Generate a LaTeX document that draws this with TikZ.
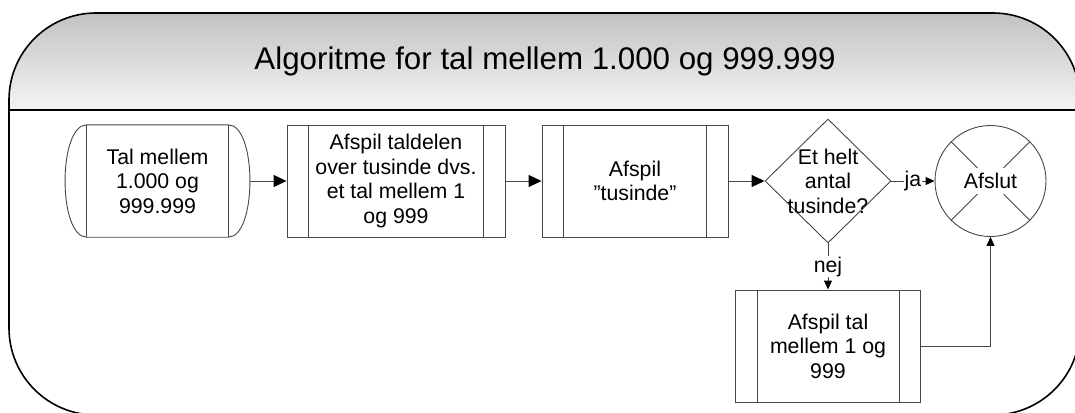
\documentclass[tikz,border=0pt]{standalone}
\usepackage{fontspec}
\setmainfont{Liberation Sans}
\usetikzlibrary{shapes.geometric,arrows.meta,calc}
\definecolor{ln}{RGB}{70,70,70}
\newcommand\ppbars[1]{\draw[ln,line width=0.9pt] ($(#1.north west)+(22,0)$) -- ($(#1.south west)+(22,0)$) ($(#1.north east)+(-22,0)$) -- ($(#1.south east)+(-22,0)$);}
\begin{document}
\begin{tikzpicture}[x=1pt,y=-1pt,
  txt/.style={inner sep=0pt,align=center,font=\fontsize{21.3}{24.5}\selectfont},
  plain/.style={txt,minimum height=112pt},
  box/.style={plain,draw=ln,line width=0.9pt},
  conn/.style={draw=ln,line width=0.9pt,-{Triangle[length=13pt,width=12pt,color=black]}},
  connsm/.style={draw=ln,line width=0.9pt,-{Triangle[length=9pt,width=8pt,color=black]}},
  lbl/.style={fill=white,inner sep=1pt,font=\fontsize{21.3}{24.5}\selectfont}
]
\useasboundingbox (0,0) rectangle (1075,412);
\clip (0,0) rectangle (1075,412);
% frame
\begin{scope}
\clip[rounded corners=87pt] (9,200) -- (9,13) -- (1080,13) -- (1080,415) -- (9,415) -- cycle;
\shade[top color=black!24,bottom color=black!4] (0,13) rectangle (1080,110);
\end{scope}
\draw[line width=1.6pt,rounded corners=87pt] (9,200) -- (9,13) -- (1080,13) -- (1080,415) -- (9,415) -- cycle;
\draw[line width=1.6pt] (9,110) -- (1080,110);
\node[inner sep=0pt,font=\fontsize{31.3}{36}\selectfont] (title) at (545,61) {Algoritme for tal mellem 1.000 og 999.999};
% start node
\node[plain,minimum width=185pt] (n1) at (157.5,181) {Tal mellem\\1.000 og\\999.999};
\draw[ln,line width=0.9pt] ($(n1.north west)+(22,0)$) -- ($(n1.north east)+(-22,0)$)
  .. controls +(29,0) and +(29,0) .. ($(n1.south east)+(-22,0)$) -- ($(n1.south west)+(22,0)$)
  .. controls +(-29,0) and +(-29,0) .. ($(n1.north west)+(22,0)$) -- cycle;
\ppbars{n1}
% process nodes
\node[box,minimum width=218pt] (n2) at (396,181) {Afspil taldelen\\over tusinde dvs.\\et tal mellem 1\\og 999};
\ppbars{n2}
\node[box,minimum width=186pt] (n3) at (635,181) {Afspil\\\char"201D tusinde\char"201D};
\ppbars{n3}
\node[draw=ln,line width=0.9pt,diamond,aspect=1,minimum width=126pt,minimum height=124pt,inner sep=0pt] (d) at (828,181) {};
\node[txt] (dt) at (828,181) {Et helt\\antal\\tusinde?};
\node[txt,draw=ln,line width=0.9pt,circle,minimum size=111pt] (c) at (990.5,181) {Afslut};
\draw[ln,line width=0.9pt] (c.north west) -- ($(c.center)!0.33!(c.north west)$)
  (c.north east) -- ($(c.center)!0.33!(c.north east)$)
  (c.south west) -- ($(c.center)!0.33!(c.south west)$)
  (c.south east) -- ($(c.center)!0.33!(c.south east)$);
\node[box,minimum width=185pt] (n5) at (828,346) {Afspil tal\\mellem 1 og\\999};
\ppbars{n5}
% connectors
\draw[conn] (n1) -- (n2);
\draw[conn] (n2) -- (n3);
\draw[conn] (n3) -- (d);
\draw[connsm] (d) -- node[lbl]{ja} (c);
\draw[connsm] (d) -- node[lbl]{nej} (n5);
\draw[connsm] (n5.east) -| (c.south);
\end{tikzpicture}
\end{document}
